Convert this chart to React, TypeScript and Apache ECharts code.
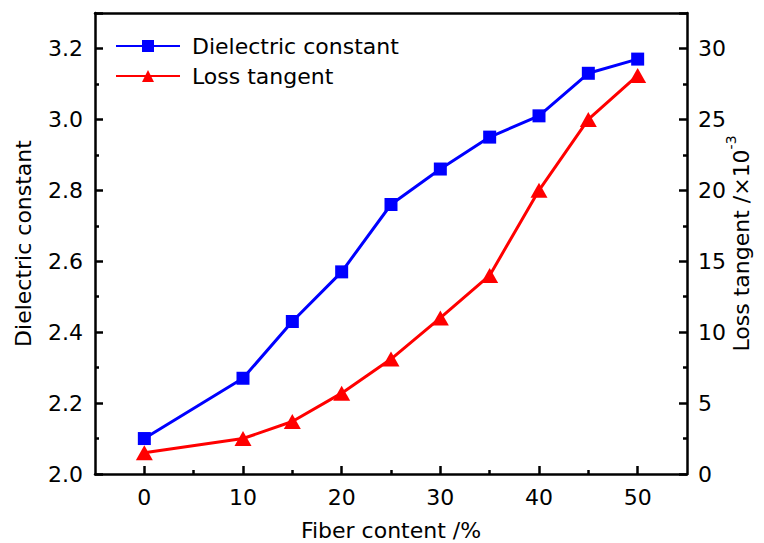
import React, { useEffect, useRef } from "react";
import * as echarts from "echarts";

const fiberContent = [0, 10, 15, 20, 25, 30, 35, 40, 45, 50];
const dielectricConstant = [2.1, 2.27, 2.43, 2.57, 2.76, 2.86, 2.95, 3.01, 3.13, 3.17];
const lossTangent = [1.5, 2.5, 3.7, 5.7, 8.1, 11.0, 14.0, 20.0, 25.0, 28.1];
const xMajorTicks = [0, 10, 20, 30, 40, 50];
const xMinorTicks = [5, 15, 25, 35, 45];

const FONT = "'DejaVu Sans', 'Liberation Sans', Arial, sans-serif";
const FS = 22;

export default function App() {
  const ref = useRef<HTMLDivElement>(null);
  useEffect(() => {
    if (!ref.current) return;
    const chart = echarts.init(ref.current, null, { renderer: "svg" });
    const lineStyle = { color: "#000", width: 2.5 };
    const axisCommon = {
      axisLine: { show: true, onZero: false, lineStyle },
      axisTick: { show: true, inside: true, length: 8, lineStyle: { color: "#000", width: 2.5 } },
      minorTick: { show: true, splitNumber: 2, length: 4, lineStyle: { color: "#000", width: 2.5 } },
      axisLabel: { color: "#000", fontSize: FS, fontFamily: FONT },
      splitLine: { show: false },
      nameTextStyle: { color: "#000", fontSize: FS, fontFamily: FONT },
      nameMoveOverlap: false,
    };
    chart.setOption({
      animation: false,
      backgroundColor: "#fff",
      grid: { left: 95, right: 77, top: 13, bottom: 69, containLabel: false, outerBoundsMode: "none" },
      legend: {
        left: 115,
        top: 35,
        padding: 0,
        orient: "vertical",
        itemWidth: 64,
        itemHeight: 15,
        itemGap: 8,
        textStyle: { color: "#000", fontSize: FS, fontFamily: FONT, padding: [0, 0, 0, 7] },
        data: ["Dielectric constant", "Loss tangent"],
      },
      xAxis: [
        {
          ...axisCommon,
          type: "value",
          position: "bottom",
          min: -5,
          max: 55,
          axisTick: { ...axisCommon.axisTick, customValues: xMajorTicks },
          axisLabel: { ...axisCommon.axisLabel, margin: 12, customValues: xMajorTicks },
          minorTick: { show: false },
          name: "Fiber content /%",
          nameLocation: "middle",
          nameGap: 45,
        },
        {
          type: "value",
          position: "top",
          min: -5,
          max: 55,
          axisLine: { show: true, onZero: false, lineStyle },
          axisTick: { show: false },
          axisLabel: { show: false },
          splitLine: { show: false },
        },
        {
          type: "value",
          position: "bottom",
          min: -5,
          max: 55,
          axisLine: { show: false, onZero: false },
          axisTick: { show: true, inside: true, length: 4, customValues: xMinorTicks, lineStyle: { color: "#000", width: 2.5 } },
          axisLabel: { show: false },
          splitLine: { show: false },
        },
      ],
      yAxis: [
        {
          ...axisCommon,
          type: "value",
          position: "left",
          min: 2.0,
          max: 3.3,
          interval: 0.2,
          axisLabel: {
            ...axisCommon.axisLabel,
            margin: 12,
            formatter: (v: number) => (v > 3.21 ? "" : v.toFixed(1)),
          },
          name: "Dielectric constant",
          nameLocation: "middle",
          nameGap: 61,
        },
        {
          ...axisCommon,
          type: "value",
          position: "right",
          min: 0,
          max: 32.5,
          interval: 5,
          axisLabel: {
            ...axisCommon.axisLabel,
            margin: 11,
            formatter: (v: number) => (v > 30 ? "" : String(v)),
          },
          name: "{a|Loss tangent /×10}{sup|-3}",
          nameLocation: "middle",
          nameGap: 37,
          nameRotate: 90,
          nameTextStyle: {
            ...axisCommon.nameTextStyle,
            rich: {
              a: { fontSize: FS, fontFamily: FONT, color: "#000", lineHeight: 28, verticalAlign: "bottom" },
              sup: { fontSize: 14, fontFamily: FONT, color: "#000", lineHeight: 14, verticalAlign: "top" },
            },
          },
        },
      ],
      series: [
        {
          name: "Dielectric constant",
          type: "line",
          xAxisIndex: 0,
          yAxisIndex: 0,
          data: fiberContent.map((x, i) => [x, dielectricConstant[i]]),
          symbol: "rect",
          symbolSize: 13,
          itemStyle: { color: "#0000ff" },
          lineStyle: { color: "#0000ff", width: 3 },
        },
        {
          name: "Loss tangent",
          type: "line",
          xAxisIndex: 0,
          yAxisIndex: 1,
          data: fiberContent.map((x, i) => [x, lossTangent[i]]),
          symbol: "triangle",
          symbolSize: [17, 15],
          itemStyle: { color: "#ff0000" },
          lineStyle: { color: "#ff0000", width: 3 },
        },
      ],
    });
    return () => chart.dispose();
  }, []);
  return (
    <div
      ref={ref}
      style={{ position: "fixed", left: 0, top: 0, width: 764, height: 543, background: "#fff" }}
    />
  );
}
